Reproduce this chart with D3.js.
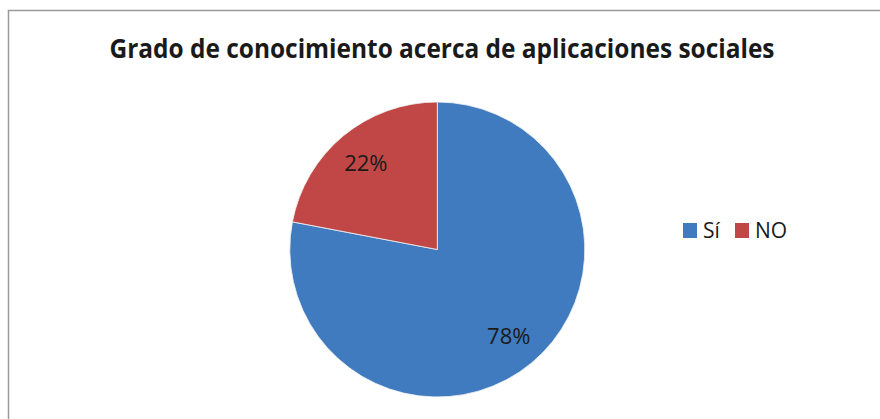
<!DOCTYPE html>
<meta charset="utf-8">
<script src="https://d3js.org/d3.v7.min.js"></script>
<style>
body{margin:0;background:#fff;}
text{font-family:"Open Sans","Liberation Sans",sans-serif;fill:#1a1a1a;}
</style>
<div id="chart"></div>
<script>
var categories = ["Sí", "NO"];
var values = [78, 22];
var labels = ["78%", "22%"];
var colors = ["#407BBF", "#C04745"];

var width = 880, height = 419;
var cx = 437.3, cy = 249.5, radius = 147.5;

var svg = d3.select("#chart")
  .append("svg")
    .attr("width", width)
    .attr("height", height);

// chart frame (cut off at right and bottom like the picture)
svg.append("rect")
  .attr("x", 8.5)
  .attr("y", 10.5)
  .attr("width", 900)
  .attr("height", 450)
  .style("fill", "none")
  .style("stroke", "#9a9a9a")
  .style("stroke-width", 1.5);

svg.append("text")
  .attr("x", 442)
  .attr("y", 58)
  .attr("text-anchor", "middle")
  .style("font-size", "27px")
  .style("font-weight", "bold")
  .attr("textLength", 665)
  .attr("lengthAdjust", "spacingAndGlyphs")
  .text("Grado de conocimiento acerca de aplicaciones sociales");

var color = d3.scaleOrdinal().domain(categories).range(colors);

var pie = d3.pie().sort(null).value(function(d){return d.value;});
var data = categories.map(function(c, i){return {cat: c, value: values[i], label: labels[i]};});
var arcs = pie(data);

var arc = d3.arc().innerRadius(0).outerRadius(radius);
var labelArc = d3.arc().innerRadius(radius * 0.76).outerRadius(radius * 0.76);

var g = svg.append("g").attr("transform", "translate(" + cx + "," + cy + ")");

g.selectAll("path")
  .data(arcs)
  .enter()
  .append("path")
    .attr("d", arc)
    .style("fill", function(d){return color(d.data.cat);})
    .style("stroke", "#f2f2f2")
    .style("stroke-width", 0.8);

g.selectAll("text")
  .data(arcs)
  .enter()
  .append("text")
    .attr("transform", function(d){return "translate(" + labelArc.centroid(d) + ")";})
    .attr("text-anchor", "middle")
    .attr("dy", "0.36em")
    .style("font-size", "22px")
    .text(function(d){return d.data.label;});

// legend
var legX = [683, 735];
var leg = svg.selectAll("g.leg")
  .data(categories)
  .enter()
  .append("g")
    .attr("class", "leg")
    .attr("transform", function(d, i){return "translate(" + legX[i] + ",223)";});

leg.append("rect")
  .attr("width", 14)
  .attr("height", 15)
  .style("fill", function(d){return color(d);});

leg.append("text")
  .attr("x", 20)
  .attr("y", 15)
  .style("font-size", "21px")
  .text(function(d){return d;});
</script>
